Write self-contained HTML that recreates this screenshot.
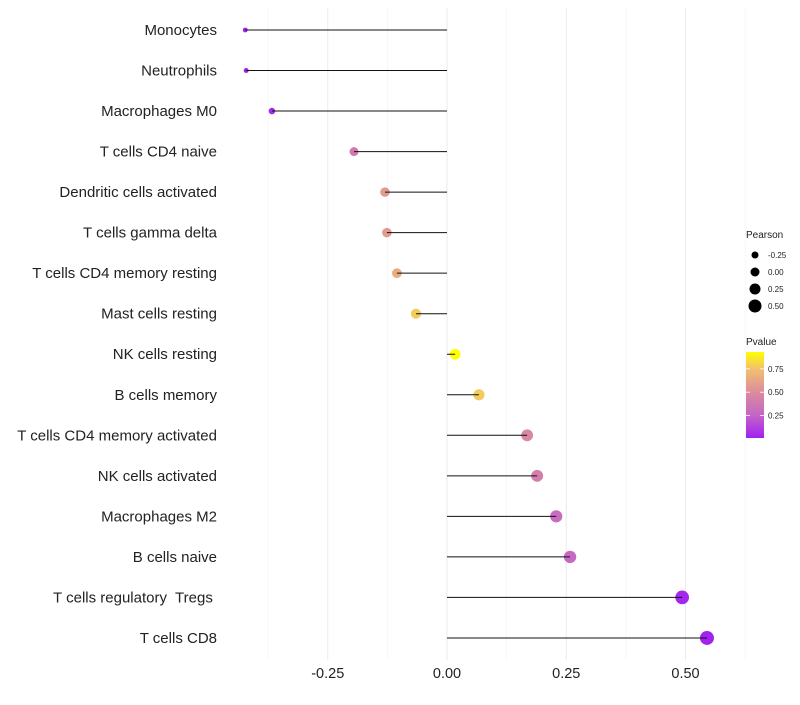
<!DOCTYPE html>
<html><head><meta charset="utf-8"><style>
body{margin:0;background:#fff;font-family:"Liberation Sans",sans-serif;}
text{white-space:pre;}
</style></head><body>
<svg id="chart" width="800" height="700" xmlns="http://www.w3.org/2000/svg">
<defs><linearGradient id="pg" x1="0" y1="1" x2="0" y2="0">
<stop offset="0" stop-color="#a020f0"/><stop offset="0.26" stop-color="#c464c8"/><stop offset="0.533" stop-color="#dc8c9c"/><stop offset="0.804" stop-color="#f2c070"/><stop offset="1" stop-color="#ffff00"/></linearGradient></defs>
<g id="grid"></g><g id="marks"></g><g id="labels"></g><g id="legend"></g>
</svg>
<script>
const categories=["Monocytes","Neutrophils","Macrophages M0","T cells CD4 naive","Dendritic cells activated","T cells gamma delta","T cells CD4 memory resting","Mast cells resting","NK cells resting","B cells memory","T cells CD4 memory activated","NK cells activated","Macrophages M2","B cells naive","T cells regulatory  Tregs ","T cells CD8"];
const pearson=[-0.423,-0.421,-0.367,-0.195,-0.130,-0.126,-0.105,-0.065,0.017,0.067,0.168,0.189,0.229,0.258,0.493,0.545];
const pvalue=[0.02,0.02,0.05,0.38,0.57,0.57,0.65,0.78,0.93,0.78,0.47,0.42,0.30,0.28,0.03,0.02];
const xTicks=[-0.25,0,0.25,0.5];
const xTickLabels=["-0.25","0.00","0.25","0.50"];
const sizeLegend=[-0.25,0,0.25,0.5];
const sizeLegendLabels=["-0.25","0.00","0.25","0.50"];
const pTicks=[0.25,0.5,0.75];
const pTickLabels=["0.25","0.50","0.75"];
const NS="http://www.w3.org/2000/svg";
function x(v){return 447+v*477;}
function y(i){return 30+i*40.53;}
function r(v){return 2+5*Math.sqrt(Math.max(0,(v+0.43)/0.975));}
const cstops=[[0.01,[160,32,240]],[0.25,[196,100,200]],[0.5,[220,140,156]],[0.75,[242,192,112]],[0.93,[255,255,0]]];
function col(p){
  p=Math.max(0.01,Math.min(0.93,p));
  for(let k=0;k<cstops.length-1;k++){const a=cstops[k],b=cstops[k+1];
    if(p<=b[0]){const f=(p-a[0])/(b[0]-a[0]);return "rgb("+a[1].map((c,j)=>Math.round(c+(b[1][j]-c)*f)).join(",")+")";}}
  return "rgb(255,255,0)";
}
function el(tag,attrs,parent,text){const e=document.createElementNS(NS,tag);for(const k in attrs)e.setAttribute(k,attrs[k]);if(text!==undefined)e.textContent=text;parent.appendChild(e);return e;}
const grid=document.getElementById('grid'),marks=document.getElementById('marks'),labels=document.getElementById('labels'),leg=document.getElementById('legend');
[-0.375,-0.125,0.125,0.375,0.625].forEach(v=>{const l=el('line',{x1:x(v),x2:x(v),y1:8,y2:660,stroke:'#f3f3f3','stroke-width':0.6},grid);

});
xTicks.forEach((v,i)=>{const l=el('line',{x1:x(v),x2:x(v),y1:8,y2:660,stroke:'#ebebeb','stroke-width':1},grid);


const t=el('text',{x:x(v),y:678,'text-anchor':'middle','font-size':14.5,fill:'#222'},labels,xTickLabels[i]);

});
categories.forEach((c,i)=>{
  const t=el('text',{x:217,y:y(i)+5,'text-anchor':'end','font-size':15,fill:'#222'},labels,c);
  
  
  const d=el('circle',{cx:x(pearson[i]),cy:y(i),r:r(pearson[i]),fill:col(pvalue[i])},marks);
  
  
  const l=el('line',{x1:x(0),x2:x(pearson[i]),y1:y(i),y2:y(i),stroke:'#111','stroke-width':1},marks);
  
  
});
let t0=el('text',{x:746,y:238,'font-size':10,fill:'#222'},leg,"Pearson");


sizeLegend.forEach((v,i)=>{const cy=255+i*17;
 const d=el('circle',{cx:755,cy:cy,r:3.5+i*1,fill:'#000'},leg);
 
 
 const t=el('text',{x:768,y:cy+3,'font-size':8,fill:'#222'},leg,sizeLegendLabels[i]);
 
 });
let t1=el('text',{x:746,y:345,'font-size':10,fill:'#222'},leg,"Pvalue");


const bar=el('rect',{x:746,y:352,width:18,height:86,fill:'url(#pg)'},leg);


function py(p){return 438-(p-0.01)/0.92*86;}
pTicks.forEach((p,i)=>{
 el('line',{x1:746,x2:750,y1:py(p),y2:py(p),stroke:'#fff','stroke-width':0.8},leg);
 el('line',{x1:760,x2:764,y1:py(p),y2:py(p),stroke:'#fff','stroke-width':0.8},leg);
 const t=el('text',{x:768,y:py(p)+3,'font-size':8,fill:'#222'},leg,pTickLabels[i]);
 
 });
</script>
</body></html>
